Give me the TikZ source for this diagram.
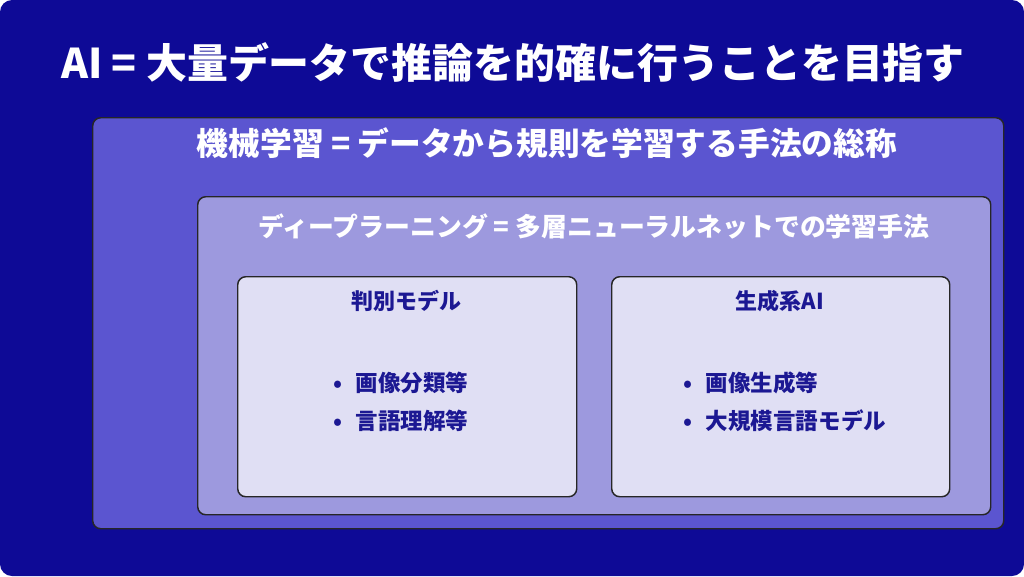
\documentclass[tikz,border=0pt]{standalone}
\usepackage{fontspec}
\setmainfont{Noto Sans CJK JP}
\definecolor{navybg}{HTML}{0E0A96}
\definecolor{mlfill}{HTML}{5B55D0}
\definecolor{dlfill}{HTML}{9D99DE}
\definecolor{cardfill}{HTML}{E0DFF4}
\definecolor{cardtext}{HTML}{1C1893}
\tikzset{
  layer/.style={draw=black!85, line width=1.1pt, rounded corners=6pt, inner sep=0pt, anchor=north west},
  lbl/.style={font=\bfseries, text=white, inner sep=0pt},
  cardlbl/.style={font=\bfseries\fontsize{16.5}{20}\selectfont, text=cardtext, inner sep=0pt},
  itemlbl/.style={font=\bfseries\fontsize{16.9}{20}\selectfont, text=cardtext, inner sep=0pt, anchor=west},
}
\begin{document}
\begin{tikzpicture}[x=0.75pt,y=-0.75pt]
%\draw[help lines, step=100] (0,0) grid (1024,576);
\useasboundingbox (0,0) rectangle (1024,576);
\fill[navybg, rounded corners=9pt] (0,0) rectangle (1024,576);
%%%%%%%%%%%%%%%%%%%%%%%%%%%%%%% title
\node[lbl, font=\bfseries\fontsize{30.7}{36}\selectfont] (title) at (513,62){AI = 大量データで推論を的確に行うことを目指す};
%%%%%%%%%%%%%%%%%%%%%%%%%%%%%%% layers
\node[layer, fill=mlfill, minimum width=683.25pt, minimum height=308.25pt] (ml) at (92,117){};
\node[lbl, font=\bfseries\fontsize{23.8}{28}\selectfont] (mltitle) at (547,143){機械学習 = データから規則を学習する手法の総称};
\node[layer, fill=dlfill, minimum width=594.75pt, minimum height=238.5pt] (dl) at (197,196){};
\node[lbl, font=\bfseries\fontsize{19.4}{23}\selectfont] (dltitle) at (594,226){ディープラーニング = 多層ニューラルネットでの学習手法};
%%%%%%%%%%%%%%%%%%%%%%%%%%%%%%% cards
\node[layer, fill=cardfill, minimum width=254.25pt, minimum height=165pt] (disc) at (237,276){};
\node[layer, fill=cardfill, minimum width=253.5pt, minimum height=165pt] (gen) at (611,276){};
\node[cardlbl] (disctitle) at (406,301){判別モデル};
\node[cardlbl] (gentitle) at (780,301){生成系AI};
\node[itemlbl] (disc1) at (333,383){•\hspace{0.6em}画像分類等};
\node[itemlbl] (disc2) at (333,421){•\hspace{0.6em}言語理解等};
\node[itemlbl] (gen1) at (683,383){•\hspace{0.6em}画像生成等};
\node[itemlbl] (gen2) at (683,421){•\hspace{0.6em}大規模言語モデル};
\end{tikzpicture}
\end{document}
